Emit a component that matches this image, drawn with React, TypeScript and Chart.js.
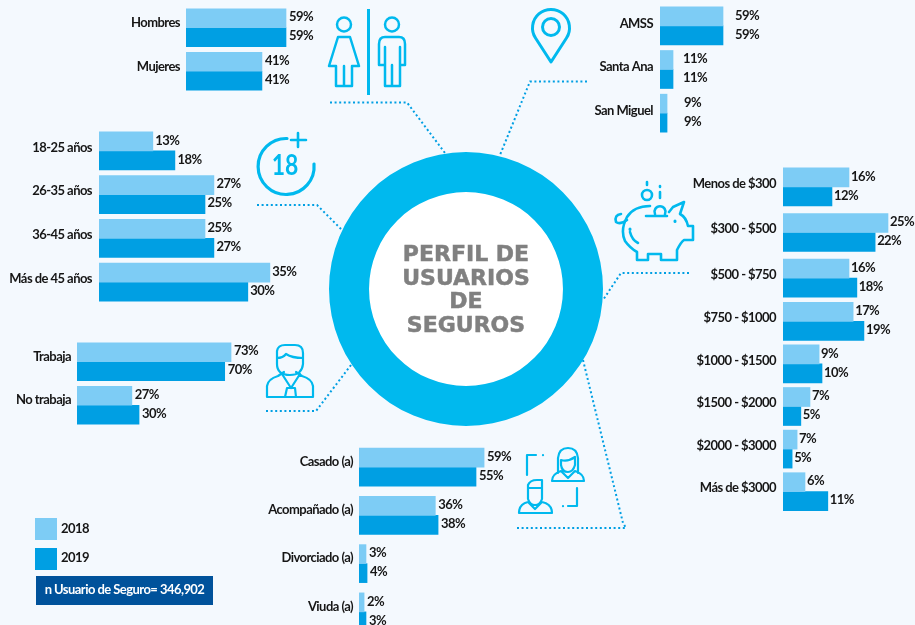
import React, { useEffect, useRef } from "react";
import { Chart, registerables } from "chart.js";

Chart.register(...registerables);

// Series values are the bar lengths as the picture draws them, in percent units.
// The printed figures are in the *Labels lists: a few bars differ from their printed figure.
const genderCategories = ["Hombres", "Mujeres"];
const gender2018 = [59, 44.8];
const gender2019 = [59, 44.8];
const genderLabels2018 = ["59%", "41%"];
const genderLabels2019 = ["59%", "41%"];

const ageCategories = ["18-25 años", "26-35 años", "36-45 años", "Más de 45 años"];
const age2018 = [12.7, 27.1, 25, 40.3];
const age2019 = [17.9, 25, 27.1, 35.1];
const ageLabels2018 = ["13%", "27%", "25%", "35%"];
const ageLabels2019 = ["18%", "25%", "27%", "30%"];

const workCategories = ["Trabaja", "No trabaja"];
const work2018 = [73, 26];
const work2019 = [70, 29.4];
const workLabels2018 = ["73%", "27%"];
const workLabels2019 = ["70%", "30%"];

const maritalCategories = ["Casado (a)", "Acompañado (a)", "Divorciado (a)", "Viuda (a)"];
const marital2018 = [59, 36, 3.3, 2.4];
const marital2019 = [55.2, 37.3, 3.8, 3.3];
const maritalLabels2018 = ["59%", "36%", "3%", "2%"];
const maritalLabels2019 = ["55%", "38%", "4%", "3%"];

const areaCategories = ["AMSS", "Santa Ana", "San Miguel"];
const area2018 = [59, 12.2, 6.6];
const area2019 = [59, 12.2, 6.6];
const areaLabels2018 = ["59%", "11%", "9%"];
const areaLabels2019 = ["59%", "11%", "9%"];

const incomeCategories = [
  "Menos de $300", "$300 - $500", "$500 - $750", "$750 - $1000",
  "$1000 - $1500", "$1500 - $2000", "$2000 - $3000", "Más de $3000",
];
const income2018 = [15.9, 25.3, 15.9, 16.9, 8.7, 6.5, 3.4, 5.3];
const income2019 = [11.8, 22.2, 17.8, 19.5, 9.4, 4.3, 2.2, 10.8];
const incomeLabels2018 = ["16%", "25%", "16%", "17%", "9%", "7%", "7%", "6%"];
const incomeLabels2019 = ["12%", "22%", "18%", "19%", "10%", "5%", "5%", "11%"];

const ringShare = [100];
const legendYears = ["2018", "2019"];
const sampleNote = "n Usuario de Seguro= 346,902";
const centerTitle = ["PERFIL DE", "USUARIOS", "DE", "SEGUROS"];

const LIGHT = "#7dccf5";
const DARK = "#009fe3";
const RING = "#00b9ee";
const INK = "#161616";
const BG = "#f4f9fe";
const FONT = "Lato";
const FSIZE = 13;
const TRACK = "-0.55px";

type Panel = {
  cats: string[]; s18: number[]; s19: number[]; l18: string[]; l19: string[];
  x0: number; axisW: number; pad: number; pxPerUnit: number; areaW: number;
  first: number; step: number; lift: number; gap: number | number[];
};

const panels: Panel[] = [
  { cats: genderCategories, s18: gender2018, s19: gender2019, l18: genderLabels2018, l19: genderLabels2019,
    x0: 186, axisW: 120, pad: 6, pxPerUnit: 1.695, areaW: 135, first: 27.5, step: 43.5, lift: 4.5, gap: 3 },
  { cats: ageCategories, s18: age2018, s19: age2019, l18: ageLabels2018, l19: ageLabels2019,
    x0: 99, axisW: 99, pad: 7, pxPerUnit: 4.24, areaW: 205, first: 151, step: 43.67, lift: 3.5, gap: 2.5 },
  { cats: workCategories, s18: work2018, s19: work2019, l18: workLabels2018, l19: workLabels2019,
    x0: 77, axisW: 77, pad: 6, pxPerUnit: 2.11, areaW: 190, first: 362, step: 43.5, lift: 5, gap: 3 },
  { cats: maritalCategories, s18: marital2018, s19: marital2019, l18: maritalLabels2018, l19: maritalLabels2019,
    x0: 359, axisW: 110, pad: 6, pxPerUnit: 2.12, areaW: 160, first: 467, step: 48.3, lift: 5.5, gap: 3 },
  { cats: areaCategories, s18: area2018, s19: area2019, l18: areaLabels2018, l19: areaLabels2019,
    x0: 660, axisW: 90, pad: 7, pxPerUnit: 1.068, areaW: 110, first: 26, step: 43.5, lift: 2.5, gap: [12, 10, 17] },
  { cats: incomeCategories.slice(0, 3), s18: income2018.slice(0, 3), s19: income2019.slice(0, 3),
    l18: incomeLabels2018.slice(0, 3), l19: incomeLabels2019.slice(0, 3),
    x0: 783, axisW: 100, pad: 7, pxPerUnit: 4.15, areaW: 132, first: 187, step: 45.5, lift: 3.5, gap: 2 },
  { cats: incomeCategories.slice(3), s18: income2018.slice(3), s19: income2019.slice(3),
    l18: incomeLabels2018.slice(3), l19: incomeLabels2019.slice(3),
    x0: 783, axisW: 100, pad: 7, pxPerUnit: 4.15, areaW: 132, first: 321, step: 42.5, lift: 3.5, gap: 2 },
];

const barPlugin = {
  id: "printedLabels",
  beforeDraw(chart: any) {
    const cfg = chart.options.plugins.printedLabels;
    chart.ctx.letterSpacing = TRACK;
    const y = chart.scales.y;
    if (y._lifted && y._lifted === y._labelItems) return;
    const items = y.getLabelItems();
    items.forEach((it: any) => { it.textOffset -= cfg.lift; });
    y._lifted = items;
  },
  afterDatasetsDraw(chart: any) {
    const cfg = chart.options.plugins.printedLabels;
    const ctx = chart.ctx;
    ctx.save();
    ctx.font = `bold ${FSIZE}px ${FONT}`;
    ctx.fillStyle = INK;
    ctx.textBaseline = "middle";
    ctx.textAlign = "left";
    [cfg.l18, cfg.l19].forEach((labels: string[], d: number) => {
      chart.getDatasetMeta(d).data.forEach((bar: any, i: number) => {
        const g = Array.isArray(cfg.gap) ? cfg.gap[i] : cfg.gap;
        ctx.fillText(labels[i], bar.x + g, bar.y - 1);
      });
    });
    ctx.restore();
  },
};

function BarPanel({ p }: { p: Panel }) {
  const ref = useRef<HTMLCanvasElement>(null);
  const width = p.axisW + p.areaW;
  const height = Math.round(p.step * p.cats.length);
  const top = p.first - height / 2 / p.cats.length;
  useEffect(() => {
    const chart = new Chart(ref.current!, {
      type: "bar",
      data: {
        labels: p.cats,
        datasets: [
          { label: legendYears[0], data: p.s18, backgroundColor: LIGHT, borderWidth: 0, barThickness: 19 },
          { label: legendYears[1], data: p.s19, backgroundColor: DARK, borderWidth: 0, barThickness: 19 },
        ],
      },
      options: {
        indexAxis: "y",
        animation: false,
        responsive: false,
        layout: { padding: 0 },
        plugins: {
          legend: { display: false },
          tooltip: { enabled: false },
          printedLabels: { l18: p.l18, l19: p.l19, gap: p.gap, lift: p.lift },
        } as any,
        scales: {
          x: { display: false, min: 0, max: p.areaW / p.pxPerUnit },
          y: {
            afterFit: (s: any) => {
              s.width = p.axisW;
              s.paddingTop = 0;
              s.paddingBottom = 0;
            },
            grid: { display: false, drawTicks: false },
            border: { display: false },
            ticks: {
              autoSkip: false,
              padding: p.pad,
              color: INK,
              font: { family: FONT, size: FSIZE, weight: "bold" },
            },
          },
        },
      },
      plugins: [barPlugin],
    } as any);
    return () => chart.destroy();
  }, []);
  return (
    <canvas
      ref={ref}
      width={width}
      height={height}
      style={{ position: "absolute", left: p.x0 - p.axisW, top: Math.round(top), width, height }}
    />
  );
}

function Ring() {
  const ref = useRef<HTMLCanvasElement>(null);
  useEffect(() => {
    const chart = new Chart(ref.current!, {
      type: "doughnut",
      data: { labels: ["Perfil"], datasets: [{ data: ringShare, backgroundColor: RING, borderWidth: 0 }] },
      options: {
        animation: false,
        responsive: false,
        radius: 137,
        cutout: 99.1,
        plugins: { legend: { display: false }, tooltip: { enabled: false } },
      },
    } as any);
    return () => chart.destroy();
  }, []);
  return (
    <canvas ref={ref} width={280} height={280}
      style={{ position: "absolute", left: 326, top: 149, width: 280, height: 280 }} />
  );
}

const dot = { fill: "none", stroke: DARK, strokeWidth: 2, strokeDasharray: "2 2.6" };
const ic = { fill: "none", stroke: RING, strokeWidth: 2.5, strokeLinejoin: "round", strokeLinecap: "round" } as any;

function Decor() {
  return (
    <svg width={915} height={625} style={{ position: "absolute", left: 0, top: 0 }}>
      {/* connectors */}
      <polyline {...dot} points="330,102.5 407,102.5 445,153" />
      <polyline {...dot} points="257,205 317,205 342,230" />
      <polyline {...dot} points="266,411 316,411 351,365" />
      <polyline {...dot} points="587,81.5 530,81.5 500,155" />
      <polyline {...dot} points="689,273 621,273 603,300" />
      <polyline {...dot} points="517,528 626,528 623,523 583,360" />

      {/* woman / man */}
      <rect x={367} y={9} width={3} height={86} fill={RING} />
      <g {...ic}>
        <circle cx={344} cy={24.5} r={7} />
        <path d="M338,37 H350 L359,66 H352 V86 H336 V66 H329 Z M344,66 V86" />
        <circle cx={392} cy={24.5} r={7} />
        <path d="M385,37 H399 Q405,37 405,44 V65 H400 V47 M400,65 V86 H385 V65 H379 V44 Q379,37 385,37 M385,47 V65 M392,65 V86" />
      </g>

      {/* 18+ */}
      <g {...ic} strokeWidth={3.2}>
        <path d="M287,138.5 A28,28 0 1 0 314,164" />
        <path d="M298,133 V147 M291,140 H306" strokeWidth={2.6} />
      </g>
      <text transform="translate(285 175) scale(0.82 1)" textAnchor="middle" fill={RING}
        style={{ font: "bold 28px Lato" }}>18</text>

      {/* pin */}
      <g {...ic} strokeWidth={3}>
        <path d="M551,62 L535.5,38 A18.5,18.5 0 1 1 566.5,38 Z" />
        <circle cx={551} cy={27} r={8.5} />
      </g>

      {/* piggy bank */}
      <g {...ic} strokeWidth={2.6}>
        <circle cx={647} cy={195} r={5} />
        <path d="M647,182 V185 M660,186 V187 M660,192 V198" />
        <path d="M655,214 A5.5,5.5 0 1 1 665,214 M646,216 H667" />
        <path d="M650,206 Q634,206 627,217 Q620,230 625,241 Q630,248 637,252 V260 H648 V254 H661 V260 H677 V250 Q681,242 684,240 H693 V226 H688 Q686,217 680,214 L684,202 L673,207 L669,212" />
        <path d="M630,232 Q632,240 638,243" />
        <path d="M627,220 Q620,225 616,222 Q614,215 621,214" />
        <path d="M675,221 V221.5 M630,229 V229.5" strokeWidth={3} />
      </g>

      {/* businessman */}
      <g {...ic} strokeWidth={2.2}>
        <path d="M277,358 V351 Q278,345 285,345 H295 Q303,345 303,353 V364 Q302,375 290,375 Q277,375 277,364 Z M277,358 Q283,358 286,354 Q292,358 303,358" />
        <path d="M267,397 V386 Q268,379 278,376 L284,372 M313,397 V386 Q312,379 302,376 L296,372 M267,397 H313 M282,374 L291,388 L300,374 M287,388 H295 L296,397 M285,397 L287,388" />
      </g>

      {/* couple */}
      <g {...ic} strokeWidth={2.2}>
        <path d="M536,455 H527 V475 M543,455 V455.2 M577,488 V506 H568 M563,506 V506.2" />
        <path d="M558,473 V458 Q559,448 568,448 Q577,448 578,458 V473 M561,460 Q568,462 575,457 V465 Q573,472 568,472 Q562,472 561,465 Z M552,481 Q552,474 561,471 L568,478 L575,471 Q584,474 584,481 Z" />
        <path d="M528,499 V485 Q530,480 537,480 H542 V499 Q540,505 535,505 Q530,505 528,499 Z M528,488 H542 M519,513 Q519,504 528,502 L535,509 L542,502 Q552,504 552,513 Z" />
      </g>
    </svg>
  );
}

export default function App() {
  useEffect(() => {
    document.body.style.background = BG;
  }, []);
  return (
    <div style={{ position: "absolute", left: 0, top: 0, width: 915, height: 625, overflow: "hidden", background: BG }}>
      <div style={{ position: "absolute", left: 360, top: 183, width: 212, height: 212, borderRadius: "50%", background: "#fff" }} />
      <Ring />
      <Decor />
      {panels.map((p, i) => <BarPanel key={i} p={p} />)}
      <div style={{
        position: "absolute", left: 346, top: 242, width: 240, textAlign: "center", color: "#808080",
        font: 'bold 22px/23.6px "DejaVu Sans"', WebkitTextStroke: "0.5px #808080",
      }}>
        {centerTitle.map((t) => <div key={t}>{t}</div>)}
      </div>
      {legendYears.map((y, i) => (
        <React.Fragment key={y}>
          <div style={{ position: "absolute", left: 35, top: 518 + i * 30, width: 22, height: 22, background: i ? DARK : LIGHT }} />
          <div style={{ position: "absolute", left: 61, top: 520 + i * 29, color: INK, font: `bold ${FSIZE}px/16px ${FONT}`, letterSpacing: TRACK }}>{y}</div>
        </React.Fragment>
      ))}
      <div style={{
        position: "absolute", left: 36, top: 576, width: 177, height: 29, background: "#00529b", color: "#fff",
        font: `bold ${FSIZE}px/27px ${FONT}`, letterSpacing: TRACK, textAlign: "center", whiteSpace: "nowrap",
      }}>{sampleNote}</div>
    </div>
  );
}
